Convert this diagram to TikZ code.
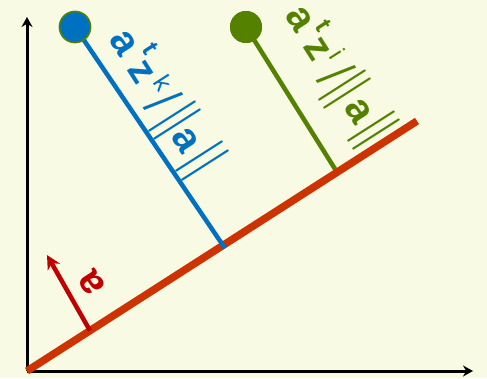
\documentclass[tikz,border=0pt]{standalone}
\usepackage{fontspec}
\setsansfont{Liberation Sans}
\usetikzlibrary{arrows.meta,calc}
\definecolor{bg}{RGB}{249,250,228}
\definecolor{myblue}{RGB}{0,112,192}
\definecolor{mygreen}{RGB}{84,130,0}
\definecolor{myred}{RGB}{204,51,0}
\definecolor{darkred}{RGB}{192,0,0}
\newcommand{\Lb}{\fontsize{40}{40}\selectfont\sffamily\bfseries}
\newcommand{\Ls}{\fontsize{25}{25}\selectfont\sffamily}
\newcommand{\Lbar}{{\fontsize{56}{56}\selectfont\rmfamily\mdseries|\kern-5.6pt|}}
\newcommand{\Lslash}{{\fontsize{56}{56}\selectfont\sffamily\mdseries\scalebox{0.72}[1]{/}}}
\tikzset{
  axisline/.style={line width=3pt, -{Stealth[length=10pt,width=11pt]}},
  redline/.style={line width=7.5pt, myred},
  normline/.style={line width=4.5pt},
  dot/.style={circle, inner sep=0pt, minimum size=31pt},
  part/.style={inner sep=0pt, anchor=center},
}
\begin{document}
\begin{tikzpicture}[x=1pt,y=1pt]
\fill[bg] (0,0) rectangle (487,378);
\useasboundingbox (0,0) rectangle (487,378);
% coordinates
\coordinate (O) at (27,7);
\coordinate (Y) at (27,361);
\coordinate (X) at (473,7);
\coordinate (R) at (417,257);
% axes
\draw[axisline] (O) -- (Y);
\draw[axisline] (O) -- (X);
% dots
\node[dot, fill=myblue, draw=mygreen, line width=1.5pt] (bd) at (75,351) {};
\node[dot, fill=mygreen, minimum size=32pt] (gd) at (246,351) {};
% feet
\coordinate (gf) at ($(O)!0.795!(R)$);
\coordinate (bf) at ($(O)!0.5026!(R)$);
\coordinate (af) at ($(O)!0.1615!(R)$);
\coordinate (at) at (47,123);
% green normal (under red line)
\draw[normline, mygreen] (gd.center) -- (gf);
% red line
\draw[redline] (O) -- (R);
% blue normal (over red line)
\draw[normline, myblue, shorten >=-3.5pt] (bd.center) -- (bf);
% dots on top
\node[dot, fill=myblue, draw=mygreen, line width=1.5pt] at (bd) {};
\node[dot, fill=mygreen, minimum size=32pt] at (gd) {};
% red arrow
\draw[darkred, line width=4.5pt, -{Stealth[length=14pt,width=14pt]}] (af) -- (at);
\node[part, text=darkred, rotate=122.6] (ra) at (92,95) {\Lb a};
% blue label
\begin{scope}[shift={(123.3,335)}, rotate=-57.4, transform shape, every node/.style={part, text=myblue}]
  \node (b1) at (0,0) {\Lb a};
  \node (b2) at (19,20) {\Ls\bfseries t};
  \node (b3) at (34,-1) {\Lb z};
  \node (b4) at (55,12) {\Ls k};
  \node (b5) at (71,2) {\Lslash};
  \node (b6) at (93,2) {\Lbar};
  \node (b7) at (115,0) {\Lb a};
  \node (b8) at (142,3) {\Lbar};
\end{scope}
% green label
\begin{scope}[shift={(299.2,358.5)}, rotate=-57.4, transform shape, every node/.style={part, text=mygreen}]
  \node (g1) at (0,0) {\Lb a};
  \node (g2) at (18.5,17) {\Ls\bfseries t};
  \node (g3) at (34.5,-1) {\Lb z};
  \node (g4) at (49.5,14) {\Ls i};
  \node (g5) at (66,2) {\Lslash};
  \node (g6) at (84,1) {\Lbar};
  \node (g7) at (109,0) {\Lb a};
  \node (g8) at (134,3) {\Lbar};
\end{scope}
\end{tikzpicture}
\end{document}
